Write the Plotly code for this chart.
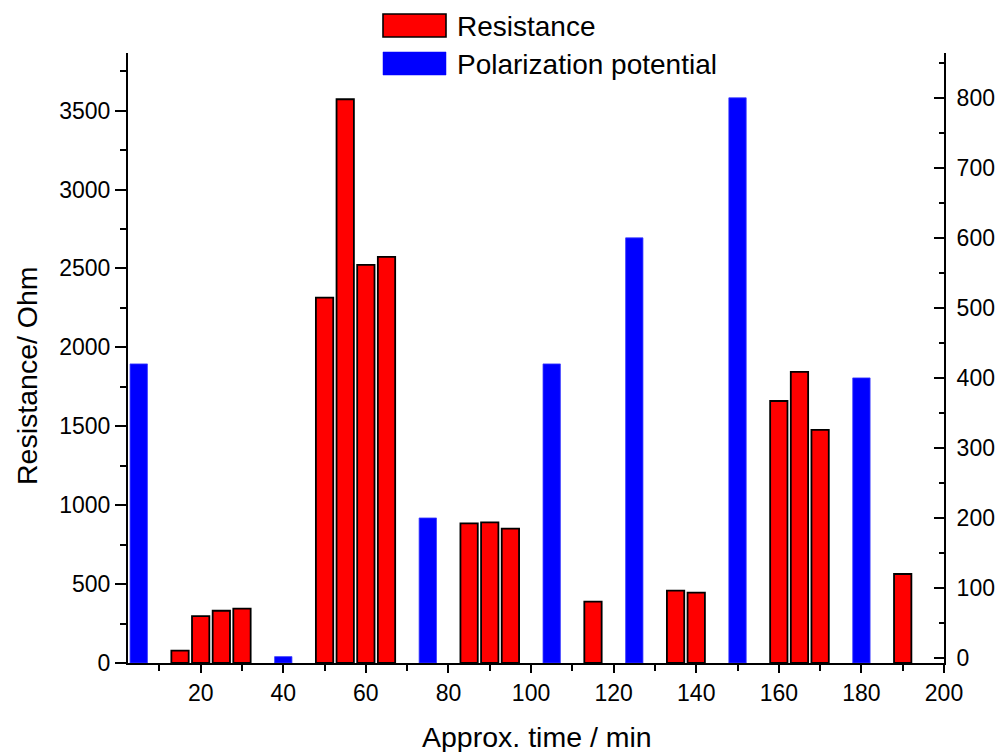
import plotly.graph_objects as go

# Resistance measurements (left axis)
res_time = [15, 20, 25, 30, 50, 55, 60, 65, 85, 90, 95, 115, 135, 140, 160, 165, 170, 190]
res_ohm = [78, 297, 331, 344, 2315, 3572, 2522, 2573, 885, 891, 851, 389, 458, 446, 1660, 1844, 1477, 564]

# Polarization potential steps (right axis)
pol_time = [5, 40, 75, 105, 125, 150, 180]
pol_mv = [420, 2, 200, 420, 600, 800, 400]

res_name = "Resistance"
pol_name = "Polarization potential"
x_title = "Approx. time / min"
y_title = "Resistance/ Ohm"

W, H = 1004, 752
L, R, T, B = 128, 60, 53, 89
PW, PH = W - L - R, H - T - B


def px(x):
    return (x - L) / PW


def py(y):
    return (H - B - y) / PH


FONT = "Liberation Sans, Arial, sans-serif"
Y2_MIN = -7.1  # bars on the right axis rise from the bottom of the frame

fig = go.Figure()
fig.add_trace(go.Bar(
    x=res_time, y=res_ohm, name=res_name, width=4.2,
    marker=dict(color="#ff0000", line=dict(color="black", width=1.8)),
    yaxis="y", showlegend=False,
))
fig.add_trace(go.Bar(
    x=pol_time, y=[v - Y2_MIN for v in pol_mv], base=Y2_MIN, name=pol_name, width=4.2,
    marker=dict(color="#0000ff", line=dict(color="#3a3aff", width=0.8)),
    yaxis="y2", showlegend=False,
))

tickfont = dict(family=FONT, size=23, color="black")
fig.update_layout(
    width=W, height=H,
    margin=dict(l=L, r=R, t=T, b=B, autoexpand=False),
    paper_bgcolor="white", plot_bgcolor="white",
    barmode="overlay",
    font=dict(family=FONT, color="black"),
    xaxis=dict(
        range=[2.4, 200], tickmode="linear", tick0=0, dtick=20,
        ticks="outside", ticklen=8, tickwidth=2, tickcolor="black",
        minor=dict(tick0=0, dtick=10, ticks="outside", ticklen=6, tickwidth=2, tickcolor="black"),
        showline=True, linewidth=2, linecolor="black",
        showgrid=False, zeroline=False, tickfont=tickfont,
    ),
    yaxis=dict(
        range=[0, 3865], tickmode="linear", tick0=0, dtick=500,
        ticks="outside", ticklen=11, tickwidth=2, tickcolor="black",
        minor=dict(tick0=0, dtick=250, ticks="outside", ticklen=6, tickwidth=2, tickcolor="black"),
        showline=True, linewidth=2, linecolor="black",
        showgrid=False, zeroline=False, tickfont=tickfont,
    ),
    yaxis2=dict(
        overlaying="y", side="right",
        range=[Y2_MIN, 864], tickmode="linear", tick0=0, dtick=100,
        ticks="inside", ticklen=10, tickwidth=2, tickcolor="black",
        minor=dict(tick0=0, dtick=50, ticks="inside", ticklen=5, tickwidth=2, tickcolor="black"),
        showline=True, linewidth=2, linecolor="black",
        showgrid=False, zeroline=False, tickfont=tickfont,
        ticklabelstandoff=6,
    ),
)

# right axis line runs a little below the frame
fig.add_shape(type="line", xref="paper", yref="paper",
              x0=1, x1=1, y0=0, y1=py(673), line=dict(color="black", width=2))

# legend swatches and labels
fig.add_shape(type="rect", xref="paper", yref="paper",
              x0=px(383), x1=px(446), y0=py(37), y1=py(14),
              fillcolor="#ff0000", line=dict(color="black", width=1.6))
fig.add_shape(type="rect", xref="paper", yref="paper",
              x0=px(383), x1=px(446), y0=py(75), y1=py(52),
              fillcolor="#0000ff", line=dict(color="#0000ff", width=0.5))
fig.add_annotation(text=res_name, xref="paper", yref="paper", x=px(455), y=py(26),
                   xanchor="left", yanchor="middle", showarrow=False,
                   font=dict(family=FONT, size=28, color="black"))
fig.add_annotation(text=pol_name, xref="paper", yref="paper", x=px(455), y=py(64),
                   xanchor="left", yanchor="middle", showarrow=False,
                   font=dict(family=FONT, size=28, color="black"))

# axis titles
fig.add_annotation(text=x_title, xref="paper", yref="paper", x=px(537), y=py(737),
                   xanchor="center", yanchor="middle", showarrow=False,
                   font=dict(family=FONT, size=28.5, color="black"))
fig.add_annotation(text=y_title, xref="paper", yref="paper", x=px(27), y=py(376),
                   xanchor="center", yanchor="middle", showarrow=False, textangle=-90,
                   font=dict(family=FONT, size=28.5, color="black"))

fig.write_html("out.html")
